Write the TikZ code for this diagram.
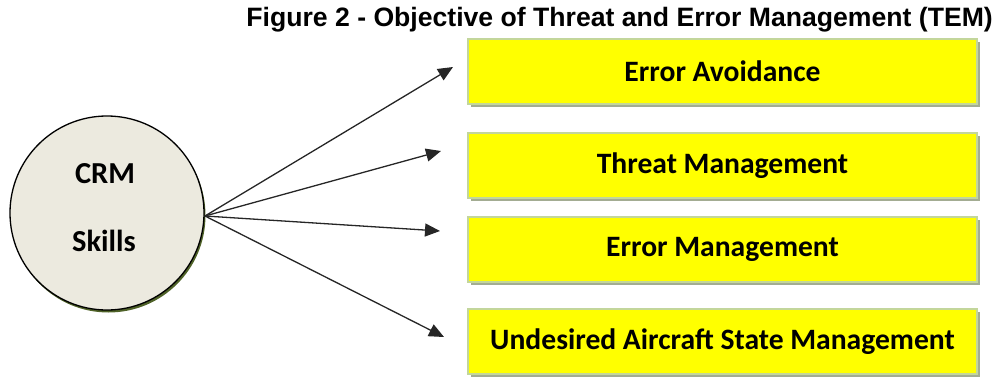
\documentclass[tikz,border=0pt]{standalone}
\usepackage{fontspec}
\setmainfont{Liberation Sans}
\newfontfamily\calib{Carlito}
\usetikzlibrary{arrows.meta,shadows}
\definecolor{circfill}{HTML}{ECEADF}
\definecolor{circshadow}{HTML}{4F6228}
\definecolor{boxfill}{HTML}{FFFF00}
\definecolor{boxedge}{HTML}{C3D69B}
\definecolor{boxshadow}{HTML}{A3AC92}
\tikzset{
  objbox/.style={draw=boxedge, line width=1.2pt, fill=boxfill,
    minimum width=509pt, minimum height=65pt, inner sep=0pt,
    font=\calib\bfseries\fontsize{29.6}{32}\selectfont,
    drop shadow={shadow xshift=3pt, shadow yshift=-3pt, fill=boxshadow, opacity=1}},
  hub/.style={circle, draw=black, line width=1.3pt, fill=circfill,
    minimum size=194pt, inner sep=0pt,
    drop shadow={shadow xshift=1.5pt, shadow yshift=-2.5pt, fill=circshadow, opacity=1}},
  hubtext/.style={font=\calib\bfseries\fontsize{30.5}{34}\selectfont, inner sep=0pt},
  link/.style={draw=black!85, line width=1.3pt,
    -{Triangle[length=15pt, width=13pt]}}
}
\begin{document}
\begin{tikzpicture}[x=1pt, y=-1pt]
  \useasboundingbox (0,0) rectangle (997,381);

  % title
  \node[anchor=base east, inner sep=0pt, font=\bfseries\fontsize{26.6}{30}\selectfont]
    (title) at (993,26) {Figure 2 - Objective of Threat and Error Management (TEM)};

  % central circle
  \node[hub] (crm) at (107,213) {};
  \node[hubtext] (crmtxt) at (105,174) {CRM};
  \node[hubtext] (skills) at (104,241) {Skills};

  % objective boxes
  \node[objbox] (b1) at (722.5,71.5) {Error Avoidance};
  \node[objbox] (b2) at (722.5,165.5) {Threat Management};
  \node[objbox] (b3) at (722.5,249.5) {Error Management};
  \node[objbox] (b4) at (722.5,341.5) {Undesired Aircraft State Management};

  % connector start and arrow tips
  \coordinate (src) at (205,216);
  \coordinate (t1) at (453,67);
  \coordinate (t2) at (441,151);
  \coordinate (t3) at (440,231);
  \coordinate (t4) at (444,337);

  \draw[link] (src) -- (t1);
  \draw[link] (src) -- (t2);
  \draw[link] (src) -- (t3);
  \draw[link] (src) -- (t4);
\end{tikzpicture}
\end{document}
